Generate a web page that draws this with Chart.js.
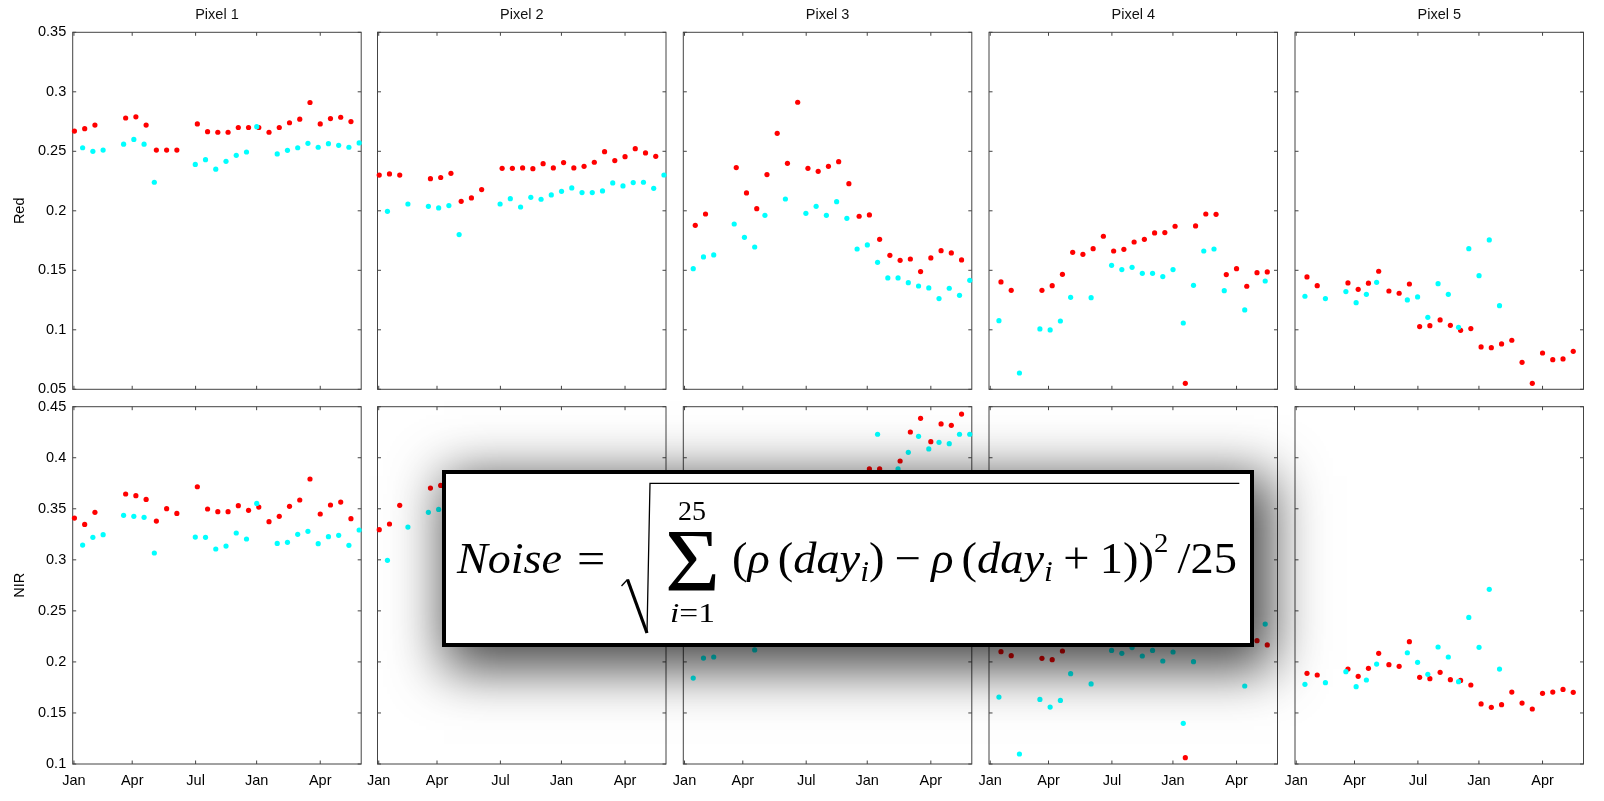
<!DOCTYPE html>
<html>
<head>
<meta charset="utf-8">
<script src="https://cdn.jsdelivr.net/npm/chart.js@4.4.1/dist/chart.umd.min.js"></script>
<style>
html,body{margin:0;padding:0;background:#fff;}
body{width:1604px;height:801px;overflow:hidden;position:relative;}
#box{position:absolute;left:441.7px;top:470px;width:812.3px;height:177.3px;box-sizing:border-box;border:4px solid #000;background:#fff;box-shadow:10px 14px 50px 8px rgba(0,0,0,0.72);z-index:10;}
.f{position:absolute;z-index:11;font-family:"Liberation Serif","DejaVu Serif",serif;white-space:pre;line-height:1;transform-origin:0 0;color:#000;}
.f i{font-style:italic;}
.f sub{font-size:0.68em;vertical-align:-0.28em;line-height:0;}
.f sup{font-size:0.62em;vertical-align:0.78em;line-height:0;}
.f .sp{display:inline-block;width:0.222em;}
.f .hs{display:inline-block;width:0.17em;}
.f .hs2{display:inline-block;width:0.2em;}
#rad{position:absolute;left:0;top:0;z-index:11;}
</style>
</head>
<body>
<div id="box"></div>
<svg id="rad" width="1604" height="801">
  <path d="M621.5 586 L627.5 579.5" fill="none" stroke="#000" stroke-width="1.3"/>
  <path d="M627.5 579.5 L647 633" fill="none" stroke="#000" stroke-width="3.2"/>
  <path d="M647 633 L650 483.3 L1239.3 483.3" fill="none" stroke="#000" stroke-width="1.3"/>
</svg>
<div class="f" id="fNoise"><i>Noise</i></div>
<div class="f" id="fEq">=</div>
<div class="f" id="fSig">Σ</div>
<div class="f" id="fTop">25</div>
<div class="f" id="fBot"><i>i</i>=1</div>
<div class="f" id="fBody">(<i>ρ</i><span class="hs"></span>(<i>day</i><sub><i>i</i></sub>)<span class="sp"></span>−<span class="sp"></span><i>ρ</i><span class="hs"></span>(<i>day</i><sub><i>i</i></sub><span class="sp"></span>+<span class="sp"></span>1))<sup>2</sup><span class="hs2"></span>/25</div>
<script>
// ---------- axes / labels ----------
const monthTickPos = [-0.05, 5.64, 11.83, 17.79, 24.0];
const monthLabels = ['Jan', 'Apr', 'Jul', 'Jan', 'Apr'];
const redTickVals = [0.05, 0.1, 0.15, 0.2, 0.25, 0.3, 0.35];
const redTickLabels = ['0.05', '0.1', '0.15', '0.2', '0.25', '0.3', '0.35'];
const nirTickVals = [0.1, 0.15, 0.2, 0.25, 0.3, 0.35, 0.4, 0.45];
const nirTickLabels = ['0.1', '0.15', '0.2', '0.25', '0.3', '0.35', '0.4', '0.45'];
const pixelTitles = ['Pixel 1', 'Pixel 2', 'Pixel 3', 'Pixel 4', 'Pixel 5'];
const rowLabels = ['Red', 'NIR'];

// ---------- observation positions (composite index) ----------
const redX1 = [0,1,2,5,6,7,8,9,10,12,13,14,15,16,17,18,19,20,21,22,23,24,25,26,27];
const cyanX1 = [0.8,1.8,2.8,4.8,5.8,6.8,7.8,11.8,12.8,13.8,14.8,15.8,16.8,17.8,19.8,20.8,21.8,22.8,23.8,24.8,25.8,26.8,27.8];
const redX2 = [0,1,2,5,6,7,8,9,10,12,13,14,15,16,17,18,19,20,21,22,23,24,25,26,27];
const cyanX2 = [0.8,2.8,4.8,5.8,6.8,7.8,11.8,12.8,13.8,14.8,15.8,16.8,17.8,18.8,19.8,20.8,21.8,22.8,23.8,24.8,25.8,26.8,27.8];
const redX3 = [1,2,5,6,7,8,9,10,11,12,13,14,15,16,17,18,19,20,21,22,23,24,25,26,27];
const cyanX3 = [0.8,1.8,2.8,4.8,5.8,6.8,7.8,9.8,11.8,12.8,13.8,14.8,15.8,16.8,17.8,18.8,19.8,20.8,21.8,22.8,23.8,24.8,25.8,26.8,27.8];
const redX4 = [1,2,5,6,7,8,9,10,11,12,13,14,15,16,17,18,19,20,21,22,23,24,25,26,27];
const cyanX4 = [0.8,2.8,4.8,5.8,6.8,7.8,9.8,11.8,12.8,13.8,14.8,15.8,16.8,17.8,18.8,19.8,20.8,21.8,22.8,24.8,26.8];
const redX5 = [1,2,5,6,7,8,9,10,11,12,13,14,15,16,17,18,19,20,21,22,23,24,25,26,27];
const cyanX5 = [0.8,2.8,4.8,5.8,6.8,7.8,10.8,11.8,12.8,13.8,14.8,15.8,16.8,17.8,18.8,19.8];

// ---------- Red band reflectance ----------
const red1R = [0.267,0.269,0.272,0.278,0.279,0.272,0.251,0.251,0.251,0.273,0.2665,0.266,0.266,0.270,0.270,0.270,0.266,0.270,0.274,0.277,0.291,0.273,0.2775,0.2786,0.275];
const cyan1R = [0.253,0.250,0.251,0.256,0.260,0.256,0.224,0.239,0.243,0.235,0.2416,0.2466,0.2494,0.2707,0.2478,0.2508,0.253,0.2567,0.2534,0.2564,0.255,0.2534,0.257];
const red2R = [0.230,0.231,0.230,0.227,0.228,0.2315,0.208,0.2108,0.2178,0.2357,0.2357,0.236,0.2354,0.2396,0.236,0.2405,0.236,0.2374,0.2408,0.2497,0.2422,0.2455,0.2522,0.2486,0.2458];
const cyan2R = [0.1996,0.2057,0.2038,0.2024,0.2044,0.180,0.2057,0.2102,0.2032,0.2113,0.2097,0.2133,0.2164,0.2192,0.2153,0.2153,0.2167,0.2234,0.2209,0.2237,0.224,0.2189,0.2301];
const red3R = [0.1878,0.1973,0.2363,0.215,0.2018,0.2304,0.2651,0.2399,0.2912,0.2357,0.2332,0.2374,0.2413,0.2228,0.1954,0.1965,0.176,0.1626,0.1584,0.1595,0.1489,0.1604,0.1665,0.1646,0.1587];
const cyan3R = [0.1514,0.1612,0.1629,0.1889,0.1777,0.1696,0.1962,0.2099,0.1979,0.2038,0.1962,0.2077,0.1937,0.1679,0.1713,0.1567,0.1436,0.1436,0.1396,0.1368,0.1352,0.1262,0.1349,0.129,0.1416];
const red4R = [0.1402,0.1332,0.1332,0.1371,0.1466,0.1651,0.1634,0.1682,0.1786,0.1662,0.1676,0.1738,0.176,0.1814,0.1817,0.187,0.055,0.1873,0.1973,0.197,0.1464,0.1514,0.1366,0.148,0.1486];
const cyan4R = [0.1077,0.0637,0.1007,0.0999,0.1074,0.1273,0.127,0.1542,0.1506,0.1525,0.1475,0.1475,0.1447,0.1506,0.1057,0.1374,0.1662,0.1679,0.1329,0.1167,0.141];
const red5R = [0.1444,0.1371,0.1394,0.134,0.1392,0.1492,0.1326,0.1307,0.1385,0.1027,0.1035,0.1083,0.1038,0.0996,0.101,0.0856,0.085,0.0881,0.0912,0.0727,0.055,0.0805,0.0749,0.0755,0.0819];
const cyan5R = [0.1282,0.1262,0.1321,0.1228,0.1298,0.1399,0.1251,0.1276,0.1105,0.1388,0.1298,0.1021,0.1682,0.1455,0.1755,0.1203];

// ---------- NIR band reflectance (null = hidden behind the formula box) ----------
const red1N = [0.3409,0.3347,0.3465,0.3645,0.3628,0.3592,0.338,0.3501,0.3455,0.3716,0.3498,0.3472,0.3472,0.353,0.3485,0.3517,0.3374,0.3426,0.3524,0.3586,0.3792,0.3449,0.3537,0.3566,0.3403];
const cyan1N = [0.3145,0.322,0.3246,0.3436,0.3426,0.3416,0.3067,0.3223,0.322,0.3106,0.3135,0.3263,0.3204,0.3553,0.3161,0.3171,0.325,0.3279,0.3158,0.3227,0.324,0.3142,0.3292];
const red2N = [0.3295,0.3351,0.3534,0.3703,0.3729,null,null,null,null,null,null,null,null,null,null,null,null,null,null,null,null,null,null,null,null];
const cyan2N = [0.2995,0.3321,0.3465,0.3494,null,null,null,null,null,null,null,null,null,null,null,null,null,null,null,null,null,null,null];
const red3N = [null,null,null,null,null,null,null,null,null,null,null,null,null,null,null,0.389,0.389,null,0.3968,0.4252,0.4386,0.4157,0.4331,0.4318,0.4428];
const cyan3N = [0.1842,0.2038,0.2048,null,null,0.2117,null,null,null,null,null,null,null,null,null,0.423,null,0.389,0.4053,0.421,0.4086,0.4151,0.4138,0.423,0.423];
const red4N = [0.21,0.2061,0.2035,0.2022,0.2107,null,null,null,null,null,null,null,null,null,null,null,0.1062,null,null,null,null,null,null,0.2208,0.2166];
const cyan4N = [0.1656,0.1098,0.1633,0.1558,0.1623,0.1885,0.1784,0.2113,0.2084,0.214,0.2058,0.2113,0.2009,0.2097,0.1398,0.2002,null,null,null,0.1764,0.2371];
const red5N = [0.1888,0.1872,0.193,0.1859,0.1937,0.2084,0.1973,0.1957,0.2198,0.1849,0.1836,0.1898,0.1826,0.1819,0.1774,0.1588,0.1555,0.1581,0.1705,0.1597,0.1539,0.1692,0.1705,0.1731,0.1702];
const cyan5N = [0.178,0.1797,0.1904,0.1757,0.1823,0.1979,0.209,0.1996,0.1878,0.2146,0.2048,0.1806,0.2436,0.2143,0.2711,0.193];

// ---------- assembly ----------
const pixelRedX = [redX1, redX2, redX3, redX4, redX5];
const pixelCyanX = [cyanX1, cyanX2, cyanX3, cyanX4, cyanX5];
const redSeries = [[red1R, red2R, red3R, red4R, red5R], [red1N, red2N, red3N, red4N, red5N]];
const cyanSeries = [[cyan1R, cyan2R, cyan3R, cyan4R, cyan5R], [cyan1N, cyan2N, cyan3N, cyan4N, cyan5N]];
const rowTickVals = [redTickVals, nirTickVals];
const rowTickLabels = [redTickLabels, nirTickLabels];

function pts(xs, ys) {
  const out = [];
  xs.forEach((x, i) => { if (ys[i] !== null && ys[i] !== undefined) out.push({x: x, y: ys[i]}); });
  return out;
}

const FONT = 'Liberation Sans, Arial, Helvetica, sans-serif';
const FS = 14.5;

const framePlugin = {
  id: 'frame',
  beforeDatasetsDraw(chart) {
    const {ctx, chartArea: a} = chart;
    const xs = chart.scales.x, ys = chart.scales.y;
    ctx.save();
    ctx.strokeStyle = '#444';
    ctx.lineWidth = 1;
    ctx.strokeRect(a.left, a.top, a.right - a.left, a.bottom - a.top);
    const L = 3.5;
    ctx.beginPath();
    xs.ticks.forEach(t => {
      const p = xs.getPixelForValue(t.value);
      ctx.moveTo(p, a.bottom); ctx.lineTo(p, a.bottom - L);
      ctx.moveTo(p, a.top); ctx.lineTo(p, a.top + L);
    });
    ys.ticks.forEach(t => {
      const p = ys.getPixelForValue(t.value);
      ctx.moveTo(a.left, p); ctx.lineTo(a.left + L, p);
      ctx.moveTo(a.right, p); ctx.lineTo(a.right - L, p);
    });
    ctx.stroke();
    ctx.restore();
  }
};

const plotLeft = [72.7, 377.5, 683.3, 989, 1295];
const plotW = 288.5;
const plotTop = [32.3, 406.7];
const plotBot = [389.3, 764];

for (let row = 0; row < 2; row++) {
  for (let col = 0; col < 5; col++) {
    const pl = plotLeft[col], pr = pl + plotW;
    const cl = col === 0 ? 0 : Math.floor(pl - 25);
    const cr = Math.min(1604, Math.ceil(pr + 22));
    const ct = row === 0 ? 0 : Math.floor(plotTop[1] - 20);
    const cb = row === 0 ? Math.ceil(plotBot[0] + 18) : 801;
    const W = cr - cl, H = cb - ct;
    const yAxisW = col === 0 ? pl : 0;
    const xAxisH = row === 0 ? 0 : 801 - plotBot[1];
    const cv = document.createElement('canvas');
    cv.width = W; cv.height = H;
    cv.style.cssText = 'position:absolute;left:' + cl + 'px;top:' + ct + 'px;width:' + W + 'px;height:' + H + 'px;';
    document.body.appendChild(cv);
    const tv = rowTickVals[row], tl = rowTickLabels[row];
    new Chart(cv, {
      type: 'scatter',
      data: {
        datasets: [
          {data: pts(pixelCyanX[col], cyanSeries[row][col]), pointBackgroundColor: '#00ffff', backgroundColor: '#00ffff', pointBorderWidth: 0, borderWidth: 0, pointRadius: 2.6, clip: false},
          {data: pts(pixelRedX[col], redSeries[row][col]), pointBackgroundColor: '#ff0000', backgroundColor: '#ff0000', pointBorderWidth: 0, borderWidth: 0, pointRadius: 2.6, clip: false}
        ]
      },
      options: {
        responsive: false, animation: false, events: [], devicePixelRatio: 1,
        layout: {padding: {
          left: pl - cl - yAxisW,
          right: cr - pr,
          top: row === 0 ? 0 : plotTop[1] - ct,
          bottom: row === 0 ? cb - plotBot[0] : 0
        }},
        plugins: {
          legend: {display: false},
          tooltip: {enabled: false},
          title: {
            display: row === 0, text: pixelTitles[col], fullSize: false,
            color: '#111', font: {family: FONT, size: FS, weight: 'normal'},
            padding: {top: 6.2, bottom: 8.7}
          }
        },
        scales: {
          x: {
            type: 'linear', min: -0.17, max: 28.0, bounds: 'data', position: 'bottom',
            grid: {display: false, drawTicks: false}, border: {display: false},
            ticks: {display: row === 1, padding: 8.5, color: '#000', font: {family: FONT, size: FS},
                    autoSkip: false, maxRotation: 0, minRotation: 0,
                    callback: (v, i) => monthLabels[i]},
            afterBuildTicks: s => { s.ticks = monthTickPos.map(v => ({value: v})); },
            afterFit: s => { s.height = xAxisH; }
          },
          y: {
            type: 'linear', min: tv[0], max: tv[tv.length - 1], bounds: 'data', position: 'left',
            grid: {display: false, drawTicks: false}, border: {display: false},
            ticks: {display: col === 0, padding: 6.5, color: '#000', font: {family: FONT, size: FS},
                    autoSkip: false, callback: (v, i) => tl[i]},
            afterBuildTicks: s => { s.ticks = tv.map(v => ({value: v})); },
            afterFit: s => { s.width = yAxisW; },
            title: {display: col === 0, text: rowLabels[row], color: '#000',
                    font: {family: FONT, size: FS}, padding: {top: 11.3, bottom: 0}}
          }
        }
      },
      plugins: [framePlugin]
    });
  }
}

// ---------- formula text placement ----------
const formulaLayout = [
  ['fNoise', 456.7, 574, 44, 105],
  ['fEq', 576.7, 574, 44, 28.3],
  ['fSig', 665, 591, 88, 55],
  ['fTop', 678, 521, 27, 28],
  ['fBot', 670, 623, 27, 45],
  ['fBody', 731.7, 574, 44, 505]
];
formulaLayout.forEach(([id, left, base, fs, w]) => {
  const el = document.getElementById(id);
  el.style.fontSize = fs + 'px';
  el.style.left = left + 'px';
  el.style.top = (base - 0.8375 * fs) + 'px';
  const nat = el.getBoundingClientRect().width;
  if (nat > 0) el.style.transform = 'scaleX(' + (w / nat) + ')';
});
</script>
</body>
</html>
